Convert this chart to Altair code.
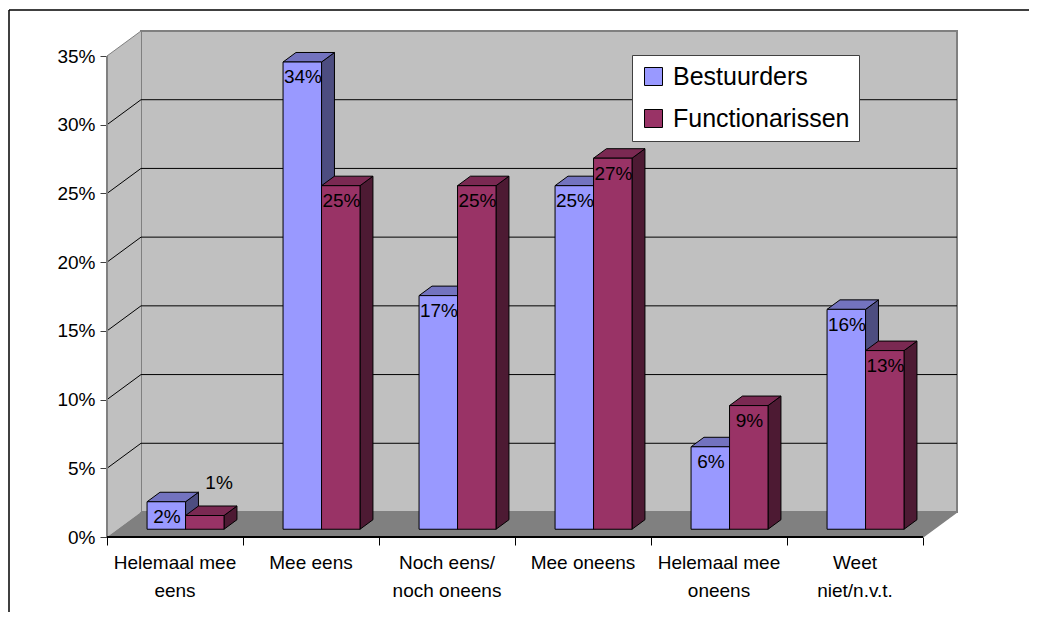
import altair as alt
import pandas as pd

# ---------------- data ----------------
categories = ["Helemaal mee\neens", "Mee eens", "Noch eens/\nnoch oneens",
              "Mee oneens", "Helemaal mee\noneens", "Weet\nniet/n.v.t."]
series_names = ["Bestuurders", "Functionarissen"]
bestuurders = [2, 34, 17, 25, 6, 16]
functionarissen = [1, 25, 25, 27, 9, 13]
y_ticks = [0, 5, 10, 15, 20, 25, 30, 35]

# ---------------- pseudo-3D geometry (data units) ----------------
N = len(categories)
YMAX = 35
DX, DY = 0.25, 1.82          # depth of the back wall
BW = 0.283                   # bar width (category units)
F1, F2 = 0.31, 0.69          # bar front / back depth fractions
OX1, OY1 = F1 * DX, F1 * DY
DDX, DDY = (F2 - F1) * DX, (F2 - F1) * DY
PW, PH = 850, 506

front_cols = ["#9999FF", "#993366"]
top_cols = ["#7373BF", "#7A2952"]
side_cols = ["#4D4D80", "#4D1A33"]
FONT = "Liberation Sans"

xs = alt.Scale(domain=[0, N + DX], nice=False, zero=False)
ys = alt.Scale(domain=[0, YMAX + DY], nice=False, zero=False)
xaxis = alt.Axis(values=list(range(N + 1)), labels=False, tickSize=8, domain=False,
                 grid=False, tickColor="#000000", tickWidth=1, title=None)
yaxis = alt.Axis(values=y_ticks, labelExpr="datum.value + '%'", tickSize=7, domain=False,
                 grid=False, tickColor="#404040", labelPadding=5, labelFontSize=19,
                 labelColor="#000000", title=None)


def X(f):
    return alt.X(f, type="quantitative", scale=xs, axis=xaxis)


def Y(f):
    return alt.Y(f, type="quantitative", scale=ys, axis=yaxis)


# ---------------- walls ----------------
back_df = pd.DataFrame({"x": [DX], "x2": [N + DX], "y": [DY], "y2": [YMAX + DY]})
back = alt.Chart(back_df).mark_rect(fill="#C0C0C0", stroke="#808080", strokeWidth=2).encode(
    x=X("x"), x2="x2", y=Y("y"), y2="y2")

side_df = pd.DataFrame({"x": [0, DX], "y": [0, DY], "y2": [YMAX, YMAX + DY]})
side_wall = alt.Chart(side_df).mark_area(fill="#C0C0C0", orient="vertical").encode(
    x=X("x"), y=Y("y"), y2="y2")

floor_df = pd.DataFrame({"y": [0, DY], "x": [0, DX], "x2": [N, N + DX]})
floor = alt.Chart(floor_df).mark_area(fill="#808080", orient="horizontal").encode(
    y=Y("y"), x=X("x"), x2="x2")

grid_df = pd.DataFrame({"t": y_ticks})
grid_base = alt.Chart(grid_df).transform_filter("datum.t > 0").transform_calculate(
    xa=f"{DX}", xb=f"{N + DX}", x0="0", yb=f"datum.t + {DY}")
back_grid = grid_base.transform_filter(f"datum.t < {YMAX}").mark_rule(
    color="#000000", strokeWidth=1).encode(x=X("xa"), x2="xb", y=Y("yb"))
side_grid = grid_base.mark_rule(strokeWidth=1).encode(
    x=X("x0"), x2="xa", y=Y("t"), y2="yb",
    color=alt.Color("gc:N", scale=None)).transform_calculate(
    gc=f"datum.t >= {YMAX} ? '#808080' : '#000000'")

edge_df = pd.DataFrame({"x": [0], "x2": [0], "y": [0], "y2": [YMAX]})
left_edge = alt.Chart(edge_df).mark_rule(color="#808080", strokeWidth=2).encode(
    x=X("x"), x2="x2", y=Y("y"), y2="y2")
axis_df = pd.DataFrame({"x": [0], "x2": [N], "y": [0]})
x_line = alt.Chart(axis_df).mark_rule(color="#000000", strokeWidth=2).encode(
    x=X("x"), x2="x2", y=Y("y"))
rdiag_df = pd.DataFrame({"x": [N], "x2": [N + DX], "y": [0], "y2": [DY]})
right_diag = alt.Chart(rdiag_df).mark_rule(color="#808080", strokeWidth=1.5).encode(
    x=X("x"), x2="x2", y=Y("y"), y2="y2")

# ---------------- bars ----------------
rows = []
for s, vals in enumerate([bestuurders, functionarissen]):
    for i, v in enumerate(vals):
        for k in (0, 1):
            rows.append({"cat": i, "s": s, "series": series_names[s], "value": v,
                         "k": k, "bar": f"{s}-{i}"})
bars_df = pd.DataFrame(rows)

bar_base = alt.Chart(bars_df).transform_calculate(
    xl=f"datum.cat + 0.5 + (datum.s - 1) * {BW} + {OX1} + datum.k * {DDX}",
    y0=f"{OY1} + datum.k * {DDY}",
).transform_calculate(
    xr=f"datum.xl + {BW}",
    yt="datum.value + datum.y0",
    topcol=f"datum.s == 0 ? '{top_cols[0]}' : '{top_cols[1]}'",
    sidecol=f"datum.s == 0 ? '{side_cols[0]}' : '{side_cols[1]}'",
)

sides = bar_base.mark_area(orient="vertical", stroke="#000000", strokeWidth=1,
                           strokeJoin="miter").encode(
    x=X("xr"), y=Y("y0"), y2="yt", detail="bar:N",
    fill=alt.Fill("sidecol:N", scale=None))
tops = bar_base.mark_area(orient="horizontal", stroke="#000000", strokeWidth=1,
                          strokeJoin="miter").encode(
    y=Y("yt"), x=X("xl"), x2="xr", detail="bar:N",
    fill=alt.Fill("topcol:N", scale=None))
fronts = bar_base.transform_filter("datum.k == 0").mark_rect(
    stroke="#000000", strokeWidth=1).encode(
    x=X("xl"), x2="xr", y=Y("y0"), y2="yt",
    color=alt.Color("series:N",
                    scale=alt.Scale(domain=series_names, range=front_cols),
                    legend=alt.Legend(orient="none", legendX=525, legendY=24, title=None,
                                      fillColor="#FFFFFF", strokeColor="#404040",
                                      padding=9, rowPadding=16, labelOffset=7,
                                      labelFontSize=25, labelColor="#000000",
                                      labelLimit=400,
                                      symbolType="square", symbolSize=324,
                                      symbolStrokeColor="#000000", symbolStrokeWidth=1,
                                      symbolOpacity=1)))

labels = bar_base.transform_filter("datum.k == 0").transform_calculate(
    lx="(datum.xl + datum.xr) / 2 + (datum.value < 1.5 ? 0.105 : 0.005)",
    ly="datum.value < 1.5 ? datum.yt + 2.4 : datum.yt - 1.12",
    txt="datum.value + '%'",
).mark_text(fontSize=19, color="#000000", baseline="middle", align="center").encode(
    x=X("lx"), y=Y("ly"), text="txt:N")

# ---------------- category labels ----------------
cat_df = pd.DataFrame({"cat": list(range(N)), "label": categories})
cat_labels = alt.Chart(cat_df).transform_calculate(cx="datum.cat + 0.5").mark_text(
    fontSize=19, color="#000000", baseline="top", align="center",
    lineBreak="\n", lineHeight=28).encode(
    x=X("cx"), y=alt.value(523), text="label:N")

# ---------------- outer frame (top and left edges visible) ----------------
one = pd.DataFrame({"a": [0]})
frame_top = alt.Chart(one).mark_rule(color="#000000", strokeWidth=1.5).encode(
    x=alt.value(-98), x2=alt.value(1200), y=alt.value(-21))
frame_left = alt.Chart(one).mark_rule(color="#000000", strokeWidth=1.5).encode(
    x=alt.value(-98), y=alt.value(-21), y2=alt.value(800))

chart = alt.layer(
    back, side_wall, floor, back_grid, side_grid, left_edge, right_diag, x_line,
    sides, tops, fronts, labels, cat_labels, frame_top, frame_left,
).properties(
    width=PW, height=PH,
    autosize=alt.AutoSizeParams(type="none"),
    padding={"left": 99, "top": 23, "right": 72, "bottom": 75},
).configure(font=FONT, background="#FFFFFF").configure_view(stroke=None)

chart.save("out.html", embed_options={"renderer": "svg", "actions": False})
